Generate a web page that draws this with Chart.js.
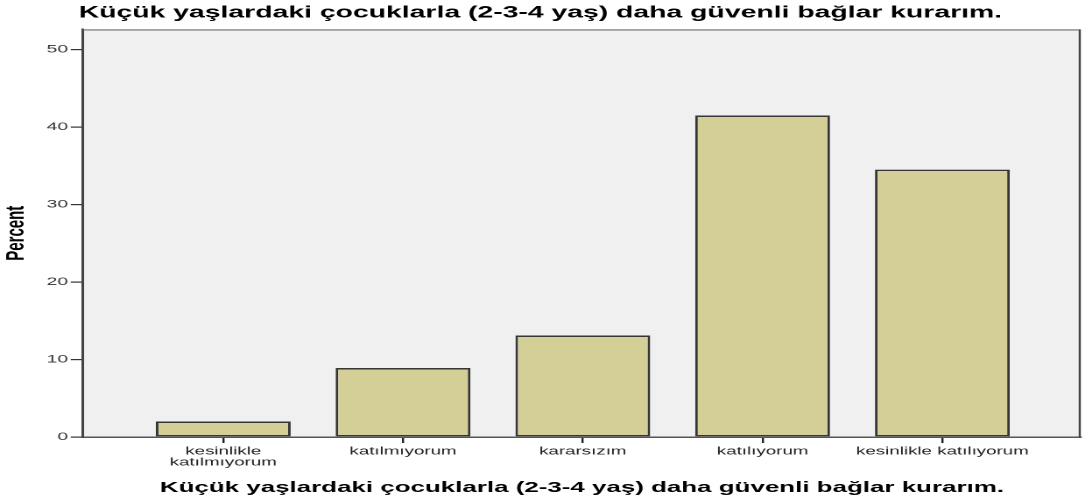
<!DOCTYPE html>
<html>
<head>
<meta charset="utf-8">
<script src="https://cdn.jsdelivr.net/npm/chart.js@4/dist/chart.umd.min.js"></script>
<style>
  html, body { margin: 0; padding: 0; background: #fff; overflow: hidden; }
  /* the original picture is stretched sideways, so the chart is drawn narrow and widened */
  #wrap { width: 618.86px; height: 503px; transform: scaleX(1.75); transform-origin: 0 0; }
</style>
</head>
<body>
<div id="wrap"><canvas id="c"></canvas></div>
<script>
var titleText = 'Küçük yaşlardaki çocuklarla (2-3-4 yaş) daha güvenli bağlar kurarım.';
var categories = ['kesinlikle katılmıyorum', 'katılmıyorum', 'kararsızım', 'katılıyorum', 'kesinlikle katılıyorum'];
var tickLabels = [['kesinlikle', 'katılmıyorum'], 'katılmıyorum', 'kararsızım', 'katılıyorum', 'kesinlikle katılıyorum'];
var percents = [2.0, 8.9, 13.1, 41.5, 34.5];
var yTicks = [0, 10, 20, 30, 40, 50];

var FONT = 'Arial, "Liberation Sans", sans-serif';

var plotFrame = {
  id: 'plotFrame',
  beforeDraw: function(chart) {
    var a = chart.chartArea, ctx = chart.ctx;
    ctx.save();
    ctx.fillStyle = '#f0f0f0';
    ctx.fillRect(a.left, a.top, a.right - a.left, a.bottom - a.top);
    ctx.restore();
  },
  afterDraw: function(chart) {
    var a = chart.chartArea, ctx = chart.ctx;
    ctx.save();
    ctx.lineWidth = 1.2;
    ctx.strokeStyle = '#6e6e6e';
    ctx.beginPath();
    ctx.moveTo(a.left, a.top + 0.5);
    ctx.lineTo(a.right, a.top + 0.5);
    ctx.stroke();
    ctx.strokeStyle = '#444';
    ctx.beginPath();
    ctx.moveTo(a.right - 0.6, a.top);
    ctx.lineTo(a.right - 0.6, a.bottom);
    ctx.stroke();
    ctx.restore();
  }
};

var chart = new Chart(document.getElementById('c'), {
  type: 'bar',
  data: {
    datasets: [{
      label: 'Percent',
      data: percents.map(function(v, i) { return { x: i, y: v }; }),
      backgroundColor: '#d3cf97',
      borderColor: '#363636',
      borderWidth: 1.5,
      borderSkipped: false,
      barPercentage: 0.75,
      categoryPercentage: 1
    }]
  },
  options: {
    responsive: true,
    maintainAspectRatio: false,
    animation: false,
    devicePixelRatio: 2,
    layout: { padding: { left: 0, right: 1.8, top: 0, bottom: 0 } },
    plugins: {
      legend: { display: false },
      tooltip: { enabled: false },
      title: {
        display: true,
        text: titleText,
        color: '#000',
        font: { family: FONT, size: 16.2, weight: 'bold' },
        padding: { top: 3.5, bottom: 6.5 }
      }
    },
    scales: {
      x: {
        type: 'linear',
        min: -0.78,
        max: 4.77,
        offset: false,
        grid: { display: true, offset: false, drawOnChartArea: false, drawTicks: true, tickLength: 6, color: '#222', lineWidth: 1.2 },
        border: { display: true, color: '#555', width: 1.5 },
        afterBuildTicks: function(s) {
          s.ticks = categories.map(function(c, i) { return { value: i }; });
        },
        afterFit: function(s) { s.height = 66; },
        ticks: {
          autoSkip: false,
          maxRotation: 0,
          minRotation: 0,
          padding: 3,
          color: '#222',
          font: { family: FONT, size: 10.7, lineHeight: 1.03 },
          callback: function(v) { return tickLabels[v]; }
        },
        title: {
          display: true,
          text: titleText,
          color: '#000',
          font: { family: FONT, size: 14.8, weight: 'bold' },
          padding: { top: 0, bottom: 6.3 }
        }
      },
      y: {
        min: 0,
        max: 52.6,
        grid: { display: true, drawOnChartArea: false, drawTicks: true, tickLength: 7, color: '#333', lineWidth: 1.2 },
        border: { display: true, color: '#444', width: 1.5 },
        afterBuildTicks: function(s) {
          s.ticks = yTicks.map(function(v) { return { value: v }; });
        },
        afterFit: function(s) { s.width = 47.4; },
        ticks: {
          padding: 1.5,
          color: '#333',
          font: { family: FONT, size: 11 }
        },
        title: {
          display: true,
          text: 'Percent',
          color: '#000',
          font: { family: FONT, size: 15, weight: 'bold' },
          padding: { top: 0.5, bottom: 0 }
        }
      }
    }
  },
  plugins: [plotFrame]
});
</script>
</body>
</html>
